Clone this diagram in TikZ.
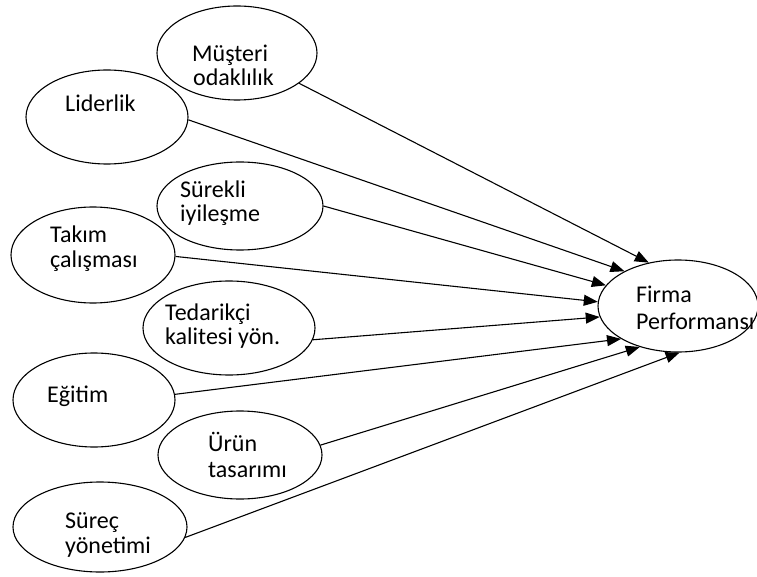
\documentclass[tikz,border=0pt]{standalone}
\usepackage{fontspec}
\setmainfont{Carlito}
\usetikzlibrary{shapes.geometric,arrows.meta}
\begin{document}
\begin{tikzpicture}[x=1pt,y=-1pt,
  oval/.style={draw,ellipse,line width=1.1pt,inner sep=0pt},
  lbl/.style={anchor=base west,inner sep=0pt,font=\fontsize{24}{28}\selectfont},
  arr/.style={line width=1.1pt,-{Triangle[length=14pt,width=11pt]}}]
\useasboundingbox (0,0) rectangle (757,577);
\clip (0,0) rectangle (757,577);
\fill[white] (0,0) rectangle (757,577);
% ellipses
\node[oval,minimum width=160pt,minimum height=94pt] (mus) at (237,53) {};
\node[oval,minimum width=162pt,minimum height=94pt] (lid) at (107,117) {};
\node[oval,minimum width=166pt,minimum height=88pt] (sur) at (240,206) {};
\node[oval,minimum width=164pt,minimum height=96pt] (tak) at (93,255) {};
\node[oval,minimum width=172pt,minimum height=94pt] (ted) at (229,328) {};
\node[oval,minimum width=162pt,minimum height=94pt] (egi) at (94,400) {};
\node[oval,minimum width=164pt,minimum height=88pt] (uru) at (240,455) {};
\node[oval,minimum width=174pt,minimum height=90pt] (src) at (100,527) {};
\node[oval,minimum width=160pt,minimum height=92pt] (firma) at (678,306) {};
% labels
\node[lbl] (t1a) at (192,62) {Müşteri};
\node[lbl] (t1b) at (193,86) {odaklılık};
\node[lbl] (t2) at (65,112) {Liderlik};
\node[lbl] (t3a) at (180,198) {Sürekli};
\node[lbl] (t3b) at (180,222) {iyileşme};
\node[lbl] (t4a) at (50,243) {Takım};
\node[lbl] (t4b) at (50,268) {çalışması};
\node[lbl] (t5a) at (165,320) {Tedarikçi};
\node[lbl] (t5b) at (165,344) {kalitesi yön.};
\node[lbl] (t6) at (47,402) {Eğitim};
\node[lbl] (t7a) at (208,451) {Ürün};
\node[lbl] (t7b) at (208,477) {tasarımı};
\node[lbl] (t8a) at (65,528) {Süreç};
\node[lbl] (t8b) at (65,553) {yönetimi};
\node[lbl] (t9a) at (636,302) {Firma};
\node[lbl] (t9b) at (636,329) {Performansı};
% connectors
\draw[arr] (mus.-26) -- (firma.124);
\draw[arr] (lid.-2) -- (firma.147);
\draw[arr] (sur.0) -- (firma.164);
\draw[arr] (tak.-1) -- (firma.177);
\draw[arr] (ted.-8) -- (firma.188);
\draw[arr] (egi.4) -- (firma.210);
\draw[arr] (uru.7) -- (firma.227);
\draw[arr] (src.-7) -- (firma.-88);
\end{tikzpicture}
\end{document}
